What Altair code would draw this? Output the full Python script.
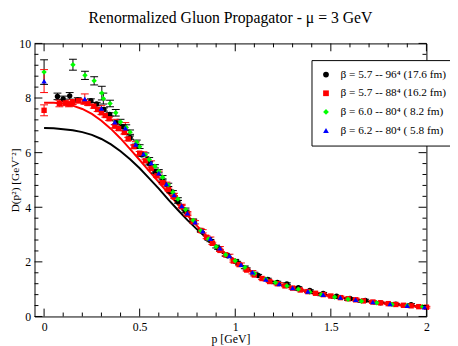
import altair as alt
import pandas as pd

# ---- data ----
labels = ["β = 5.7 -- 96⁴ (17.6 fm)", "β = 5.7 -- 88⁴  (16.2 fm)",
          "β = 6.0 -- 80⁴  ( 8.2 fm)", "β = 6.2 -- 80⁴  ( 5.8 fm)"]
colors = ["#000000", "#ff0000", "#00ff00", "#0000ff"]
shapes = ["circle", "square", "diamond", "triangle-up"]

p_black = [0.07, 0.10, 0.134, 0.176, 0.245, 0.275, 0.313, 0.343, 0.377, 0.41,
           0.45, 0.48, 0.51, 0.55, 0.58, 0.62, 0.66, 0.70, 0.74, 0.78,
           0.82, 0.87, 0.91, 0.96, 1.01, 1.06, 1.12, 1.17, 1.22, 1.27,
           1.33, 1.39, 1.46, 1.53, 1.60, 1.68, 1.76, 1.84, 1.92]
d_black = [8.06, 7.97, 8.08, 7.93, 7.90, 7.78, 7.58, 7.40, 7.10, 6.95,
           6.55, 6.25, 5.92, 5.60, 5.30, 4.95, 4.58, 4.20, 3.85, 3.48,
           3.15, 2.78, 2.50, 2.22, 1.98, 1.74, 1.50, 1.36, 1.25, 1.19,
           1.05, 0.95, 0.84, 0.74, 0.66, 0.59, 0.50, 0.45, 0.43]
e_black = [0.12, 0.10, 0.12, 0.08, 0.07, 0.06, 0.06, 0.06, 0.06, 0.06,
           0.06, 0.06, 0.05, 0.05, 0.05, 0.05, 0.05, 0.05, 0.05, 0.05,
           0.04, 0.04, 0.04, 0.04, 0.04, 0.04, 0.04, 0.04, 0.04, 0.04,
           0.04, 0.03, 0.04, 0.03, 0.03, 0.04, 0.03, 0.03, 0.04]

p_red = [0.00, 0.08, 0.11, 0.13, 0.15, 0.18, 0.21, 0.23, 0.26, 0.28,
         0.30, 0.32, 0.34, 0.37, 0.39, 0.42, 0.44, 0.47, 0.50, 0.53,
         0.56, 0.59, 0.62, 0.65, 0.68, 0.72, 0.75, 0.78, 0.82, 0.85,
         0.88, 0.92, 0.95, 0.99, 1.02, 1.06, 1.10, 1.14, 1.18, 1.22,
         1.26, 1.30, 1.34, 1.38, 1.42, 1.46, 1.50, 1.55, 1.59, 1.63,
         1.67, 1.72, 1.76, 1.80, 1.84, 1.88, 1.92, 1.96, 2.00]
d_red = [7.55, 7.80, 7.82, 7.78, 7.85, 7.90, 7.86, 7.80, 7.70, 7.58,
         7.46, 7.36, 7.24, 6.97, 6.88, 6.74, 6.50, 6.22, 5.98, 5.70,
         5.42, 5.15, 4.90, 4.65, 4.38, 4.02, 3.74, 3.48, 3.15, 2.90,
         2.68, 2.42, 2.26, 2.03, 1.90, 1.70, 1.52, 1.39, 1.28, 1.20,
         1.12, 1.04, 0.97, 0.91, 0.85, 0.80, 0.75, 0.69, 0.65, 0.61,
         0.57, 0.53, 0.50, 0.47, 0.44, 0.41, 0.39, 0.36, 0.34]
e_red = [0.20, 0.12, 0.10, 0.10, 0.09, 0.08, 0.08, 0.07, 0.07, 0.07,
         0.06, 0.06, 0.06, 0.06, 0.06, 0.06, 0.06, 0.06, 0.06, 0.06,
         0.05, 0.05, 0.05, 0.05, 0.05, 0.05, 0.05, 0.05, 0.05, 0.05,
         0.04, 0.04, 0.04, 0.04, 0.04, 0.04, 0.04, 0.04, 0.04, 0.04,
         0.03, 0.03, 0.03, 0.03, 0.03, 0.03, 0.03, 0.03, 0.03, 0.03,
         0.03, 0.03, 0.03, 0.03, 0.03, 0.03, 0.03, 0.03, 0.03]

p_green = [0.00, 0.151, 0.214, 0.262, 0.302, 0.31, 0.345, 0.375, 0.40, 0.43,
           0.45, 0.485, 0.50, 0.53, 0.55, 0.58, 0.60, 0.62, 0.65, 0.674,
           0.70, 0.74, 0.78, 0.82, 0.86, 0.90, 0.95, 1.00, 1.05, 1.10,
           1.16, 1.21, 1.27, 1.33, 1.39, 1.45, 1.52, 1.59, 1.66, 1.74,
           1.82, 1.90, 1.98]
d_green = [8.95, 9.22, 8.83, 8.63, 8.18, 7.98, 7.80, 7.46, 7.12, 6.92,
           6.75, 6.38, 6.22, 5.92, 5.75, 5.50, 5.32, 5.10, 4.82, 4.55,
           4.30, 3.92, 3.52, 3.14, 2.84, 2.56, 2.26, 2.04, 1.80, 1.57,
           1.37, 1.24, 1.12, 1.00, 0.89, 0.80, 0.71, 0.63, 0.56, 0.50,
           0.44, 0.40, 0.36]
e_green = [0.45, 0.20, 0.15, 0.15, 0.25, 0.20, 0.12, 0.12, 0.10, 0.10,
           0.08, 0.08, 0.07, 0.07, 0.07, 0.06, 0.06, 0.06, 0.06, 0.06,
           0.05, 0.05, 0.05, 0.05, 0.05, 0.05, 0.05, 0.05, 0.05, 0.05,
           0.04, 0.04, 0.04, 0.04, 0.04, 0.04, 0.04, 0.04, 0.04, 0.04,
           0.03, 0.03, 0.03]

p_blue = [0.00, 0.213, 0.30, 0.37, 0.425, 0.48, 0.52, 0.56, 0.60, 0.64,
          0.68, 0.72, 0.75, 0.79, 0.83, 0.87, 0.92, 0.97, 1.03, 1.09,
          1.16, 1.23, 1.30, 1.38, 1.46, 1.55, 1.63, 1.72, 1.81, 1.90,
          1.99]
d_blue = [8.62, 7.97, 7.62, 7.12, 6.90, 6.30, 5.95, 5.62, 5.25, 4.85,
          4.45, 4.05, 3.78, 3.45, 3.12, 2.85, 2.50, 2.22, 1.90, 1.62,
          1.36, 1.19, 1.05, 0.92, 0.80, 0.70, 0.62, 0.53, 0.46, 0.40,
          0.34]
e_blue = [0.42, 0.18, 0.10, 0.10, 0.20, 0.10, 0.08, 0.08, 0.07, 0.07,
          0.06, 0.06, 0.06, 0.06, 0.06, 0.06, 0.06, 0.06, 0.06, 0.06,
          0.05, 0.05, 0.05, 0.05, 0.05, 0.05, 0.05, 0.05, 0.05, 0.05,
          0.04]

p_fit = [0.0, 0.05, 0.1, 0.15, 0.2, 0.25, 0.3, 0.35, 0.4, 0.45, 0.5, 0.55, 0.6,
         0.65, 0.7, 0.75, 0.8, 0.85, 0.9, 0.95, 1.0, 1.1, 1.2, 1.3, 1.4, 1.5,
         1.6, 1.7, 1.8, 1.9, 2.0]
black_fit = [6.90, 6.89, 6.86, 6.82, 6.75, 6.65, 6.50, 6.30, 6.05, 5.76, 5.43,
             5.06, 4.68, 4.28, 3.90, 3.53, 3.19, 2.87, 2.57, 2.29, 2.04, 1.57,
             1.25, 1.04, 0.88, 0.75, 0.65, 0.55, 0.47, 0.40, 0.34]
red_fit = [7.83, 7.83, 7.80, 7.72, 7.60, 7.42, 7.17, 6.87, 6.52, 6.13, 5.73,
           5.32, 4.92, 4.51, 4.10, 3.70, 3.32, 2.95, 2.61, 2.31, 2.05, 1.57,
           1.25, 1.04, 0.88, 0.75, 0.65, 0.55, 0.47, 0.40, 0.34]

x_major = [0, 0.5, 1, 1.5, 2]
x_minor = [0.1, 0.2, 0.3, 0.4, 0.6, 0.7, 0.8, 0.9, 1.1, 1.2, 1.3, 1.4,
           1.6, 1.7, 1.8, 1.9]
y_major = [0, 2, 4, 6, 8, 10]
y_minor = [0.4, 0.8, 1.2, 1.6, 2.4, 2.8, 3.2, 3.6, 4.4, 4.8, 5.2, 5.6,
           6.4, 6.8, 7.2, 7.6, 8.4, 8.8, 9.2, 9.6]

# ---- build tables ----
rows = []
for lab, ps, ds, es in zip(labels,
                           [p_black, p_red, p_green, p_blue],
                           [d_black, d_red, d_green, d_blue],
                           [e_black, e_red, e_green, e_blue]):
    for p, d, e in zip(ps, ds, es):
        rows.append({"series": lab, "p": p, "D": d, "lo": d - e, "hi": d + e})
df = pd.DataFrame(rows)

fit = pd.DataFrame({"p": p_fit * 2, "D": black_fit + red_fit,
                    "fit": ["black"] * len(p_fit) + ["red"] * len(p_fit)})

W, H = 399, 278
FONT = "Liberation Serif"
xs = alt.Scale(domain=[-0.05, 2], nice=False, zero=False)
ys = alt.Scale(domain=[0, 10], nice=False, zero=False)
xaxis = alt.Axis(values=x_major, title="p  [GeV]", labelExpr="format(datum.value, '~r')")
yaxis = alt.Axis(values=y_major, title="D(p²)  [GeV⁻²]", format="d",
                 labelPadding=4, titleX=-16, titleY=H / 2, titleAngle=270,
                 titleAlign="center", titleBaseline="alphabetic", titleFontSize=11.5)

X = alt.X("p:Q", scale=xs, axis=xaxis)
Y = alt.Y("D:Q", scale=ys, axis=yaxis)
stroke_enc = alt.Stroke("series:N", scale=alt.Scale(domain=labels, range=colors), legend=None)

fit_layer = alt.Chart(fit).mark_line(strokeWidth=2).encode(
    x=X, y=Y, detail="fit:N",
    stroke=alt.Stroke("fit:N", scale=alt.Scale(domain=["black", "red"], range=["#000000", "#ff0000"]), legend=None),
)

bars = alt.Chart(df).mark_rule(strokeWidth=1).encode(
    x=X, y=alt.Y("lo:Q", scale=ys, axis=yaxis), y2="hi:Q", stroke=stroke_enc)
cap_lo = alt.Chart(df).mark_rule(strokeWidth=1, xOffset=-4, x2Offset=4).encode(
    x=X, x2="p:Q", y=alt.Y("lo:Q", scale=ys, axis=yaxis), stroke=stroke_enc)
cap_hi = alt.Chart(df).mark_rule(strokeWidth=1, xOffset=-4, x2Offset=4).encode(
    x=X, x2="p:Q", y=alt.Y("hi:Q", scale=ys, axis=yaxis), stroke=stroke_enc)

legend = alt.Legend(orient="none", legendX=282, legendY=17, title=None,
                    strokeColor="black", fillColor="white", padding=9,
                    labelFont=FONT, labelFontSize=11.5, labelColor="black",
                    symbolSize=34, rowPadding=6, labelOffset=9,
                    symbolStrokeWidth=0, cornerRadius=0, labelLimit=300)

points = alt.Chart(df).mark_point(filled=True, size=30, opacity=1).encode(
    x=X, y=Y,
    color=alt.Color("series:N", scale=alt.Scale(domain=labels, range=colors), legend=legend),
    shape=alt.Shape("series:N", scale=alt.Scale(domain=labels, range=shapes), legend=legend),
)

def xticks(vals, length, top):
    d = pd.DataFrame({"t": vals})
    if top:
        y1, y2 = 0, length
    else:
        y1, y2 = H, H - length
    return alt.Chart(d).mark_rule(color="black", strokeWidth=1).encode(
        x=alt.X("t:Q", scale=xs, axis=xaxis), y=alt.value(y1), y2=alt.value(y2))

def yticks(vals, length, right):
    d = pd.DataFrame({"t": vals})
    if right:
        x1, x2 = W, W - length
    else:
        x1, x2 = 0, length
    return alt.Chart(d).mark_rule(color="black", strokeWidth=1).encode(
        y=alt.Y("t:Q", scale=ys, axis=yaxis), x=alt.value(x1), x2=alt.value(x2))

ticks = [xticks(x_major, 8, False), xticks(x_minor, 4, False),
         xticks(x_major, 8, True), xticks(x_minor, 4, True),
         yticks(y_major, 8, False), yticks(y_minor, 4, False),
         yticks(y_major, 8, True), yticks(y_minor, 4, True)]

chart = alt.layer(fit_layer, bars, cap_lo, cap_hi, points, *ticks).resolve_scale(
    color="shared", shape="shared"
).properties(
    width=W, height=H,
    title=alt.TitleParams("Renormalized Gluon Propagator - μ = 3 GeV", font=FONT,
                          fontSize=16, fontWeight="normal", color="black",
                          anchor="middle", offset=12),
    padding={"left": 27, "top": 33, "right": 24, "bottom": 27},
    autosize=alt.AutoSizeParams(type="none"),
).configure_view(stroke="black", strokeWidth=1).configure_axis(
    grid=False, ticks=False, domain=False, labelFont=FONT, labelFontSize=12,
    labelColor="black", titleFont=FONT, titleFontSize=12, titleFontWeight="normal",
    titleColor="black", labelPadding=5, labelFlush=False,
).configure_axisX(titlePadding=2)

chart.save("out.html", embed_options={"renderer": "svg", "actions": False})
